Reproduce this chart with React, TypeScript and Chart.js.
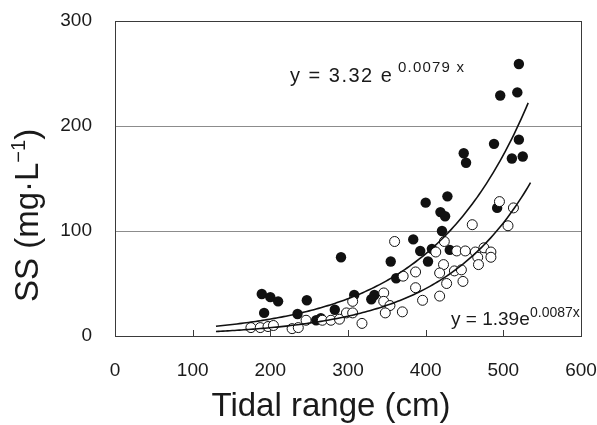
import React, { useEffect, useRef } from "react";
import { Chart, registerables } from "chart.js";

Chart.register(...registerables);

// Filled circles (upper group)
const solidX = [189, 200, 210, 192, 235, 247, 259, 265, 283, 291, 308, 330, 334, 355, 362, 384, 393, 403, 408, 400, 428, 419, 425, 421, 431, 449, 452, 488, 492, 496, 511, 518, 520, 520, 525];
const solidY = [40, 37, 33, 22, 21, 34, 15, 17, 25, 75, 39, 35, 39, 71, 55, 92, 81, 71, 83, 127, 133, 118, 114, 100, 82, 174, 165, 183, 122, 229, 169, 232, 259, 187, 171];

// Open circles (lower group)
const openX = [175, 187, 197, 204, 228, 236, 246, 267, 278, 289, 298, 306, 306, 318, 346, 346, 354, 348, 370, 360, 371, 387, 387, 396, 418, 413, 423, 424, 427, 418, 437, 446, 448, 440, 451, 464, 460, 467, 468, 475, 484, 484, 495, 506, 513];
const openY = [8, 8, 9, 10, 7, 8, 15, 15, 15, 16, 22, 22, 33, 12, 41, 33, 29, 22, 23, 90, 57, 61, 46, 34, 38, 80, 68, 90, 50, 60, 62, 63, 52, 81, 81, 80, 106, 75, 68, 84, 80, 75, 128, 105, 122];

const xTicks = [0, 100, 200, 300, 400, 500, 600];
const yTicks = [0, 100, 200, 300];

// Regression curves as printed on the chart: y = a * e^(b x)
const fitUpper = { a: 3.32, b: 0.0079, from: 130, to: 532 };
const fitLower = { a: 1.39, b: 0.0087, from: 130, to: 535 };

function curve(f: { a: number; b: number; from: number; to: number }) {
  const pts: { x: number; y: number }[] = [];
  for (let x = f.from; x <= f.to; x += 3) pts.push({ x, y: f.a * Math.exp(f.b * x) });
  pts.push({ x: f.to, y: f.a * Math.exp(f.b * f.to) });
  return pts;
}

const FONT = "'Liberation Sans', Arial, Helvetica, sans-serif";

const decor = {
  id: "decor",
  afterDraw(chart: any) {
    const { ctx, chartArea: ca, scales } = chart;
    const xs = scales.x;
    ctx.save();
    // box
    ctx.strokeStyle = "#3a3a3a";
    ctx.lineWidth = 1;
    ctx.strokeRect(Math.round(ca.left) + 0.5, Math.round(ca.top) + 0.5, Math.round(ca.right - ca.left), Math.round(ca.bottom - ca.top));
    // inward x tick marks
    ctx.beginPath();
    for (const v of xTicks.slice(1, -1)) {
      const px = Math.round(xs.getPixelForValue(v)) + 0.5;
      ctx.moveTo(px, ca.bottom);
      ctx.lineTo(px, ca.bottom - 6);
    }
    ctx.stroke();

    ctx.fillStyle = "#1a1a1a";
    ctx.textBaseline = "alphabetic";
    ctx.textAlign = "left";
    // equation 1
    ctx.font = `20px ${FONT}`;
    (ctx as any).letterSpacing = "1.5px";
    ctx.fillText("y = 3.32 e", 290, 82);
    ctx.font = `15px ${FONT}`;
    (ctx as any).letterSpacing = "1.2px";
    ctx.fillText("0.0079 x", 398, 72);
    (ctx as any).letterSpacing = "0px";
    // equation 2
    ctx.font = `19px ${FONT}`;
    ctx.fillText("y = 1.39e", 451, 325);
    ctx.font = `14px ${FONT}`;
    ctx.fillText("0.0087x", 530, 317);

    // x title
    ctx.font = `33px ${FONT}`;
    ctx.textAlign = "center";
    ctx.fillText("Tidal range (cm)", 331, 416);

    // y title (rotated) with superscript
    ctx.translate(38, 302);
    ctx.rotate(-Math.PI / 2);
    ctx.textAlign = "left";
    ctx.font = `33px ${FONT}`;
    const part1 = "SS (mg·L";
    ctx.fillText(part1, 0, 0);
    let w = ctx.measureText(part1).width;
    ctx.font = `20px ${FONT}`;
    const sup = "−1";
    ctx.fillText(sup, w, -13);
    w += ctx.measureText(sup).width;
    ctx.font = `33px ${FONT}`;
    ctx.fillText(")", w, 0);
    ctx.restore();
  },
};

export default function App() {
  const ref = useRef<HTMLCanvasElement | null>(null);
  useEffect(() => {
    if (!ref.current) return;
    const chart = new Chart(ref.current, {
      type: "scatter",
      data: {
        datasets: [
          {
            type: "line",
            data: curve(fitUpper),
            borderColor: "#111",
            borderWidth: 1.6,
            pointRadius: 0,
            fill: false,
            order: 0,
          } as any,
          {
            type: "line",
            data: curve(fitLower),
            borderColor: "#111",
            borderWidth: 1.6,
            pointRadius: 0,
            fill: false,
            order: 0,
          } as any,
          {
            data: openX.map((x, i) => ({ x, y: openY[i] })),
            pointRadius: 5,
            pointBackgroundColor: "#fff",
            pointBorderColor: "#111",
            pointBorderWidth: 1,
            order: 1,
          },
          {
            data: solidX.map((x, i) => ({ x, y: solidY[i] })),
            pointRadius: 5.2,
            pointBackgroundColor: "#111",
            pointBorderColor: "#111",
            pointBorderWidth: 0,
            order: 2,
          },
        ],
      },
      options: {
        animation: false,
        responsive: true,
        maintainAspectRatio: false,
        layout: { padding: { top: 21, right: 16, bottom: 0, left: 0 } },
        plugins: { legend: { display: false }, tooltip: { enabled: false } },
        scales: {
          x: {
            type: "linear",
            min: 0,
            max: 600,
            afterBuildTicks: (s: any) => { s.ticks = xTicks.map((v) => ({ value: v })); },
            afterFit: (s: any) => { s.height = 89; s.paddingLeft = 0; s.paddingRight = 0; },
            grid: { display: false, drawTicks: false },
            border: { display: false },
            ticks: { color: "#1a1a1a", font: { size: 19, family: FONT }, padding: 23, maxRotation: 0 },
          },
          y: {
            type: "linear",
            min: 0,
            max: 300,
            afterBuildTicks: (s: any) => { s.ticks = yTicks.map((v) => ({ value: v })); },
            afterFit: (s: any) => { s.width = 115; s.paddingTop = 0; s.paddingBottom = 0; },
            grid: { color: "#8c8c8c", lineWidth: 1, drawTicks: false },
            border: { display: false },
            ticks: { color: "#1a1a1a", font: { size: 19, family: FONT }, padding: 23 },
          },
        },
      },
      plugins: [decor],
    });
    return () => chart.destroy();
  }, []);
  return (
    <div style={{ position: "fixed", left: 0, top: 0, width: 597, height: 425, background: "#fff" }}>
      <canvas ref={ref} />
    </div>
  );
}
